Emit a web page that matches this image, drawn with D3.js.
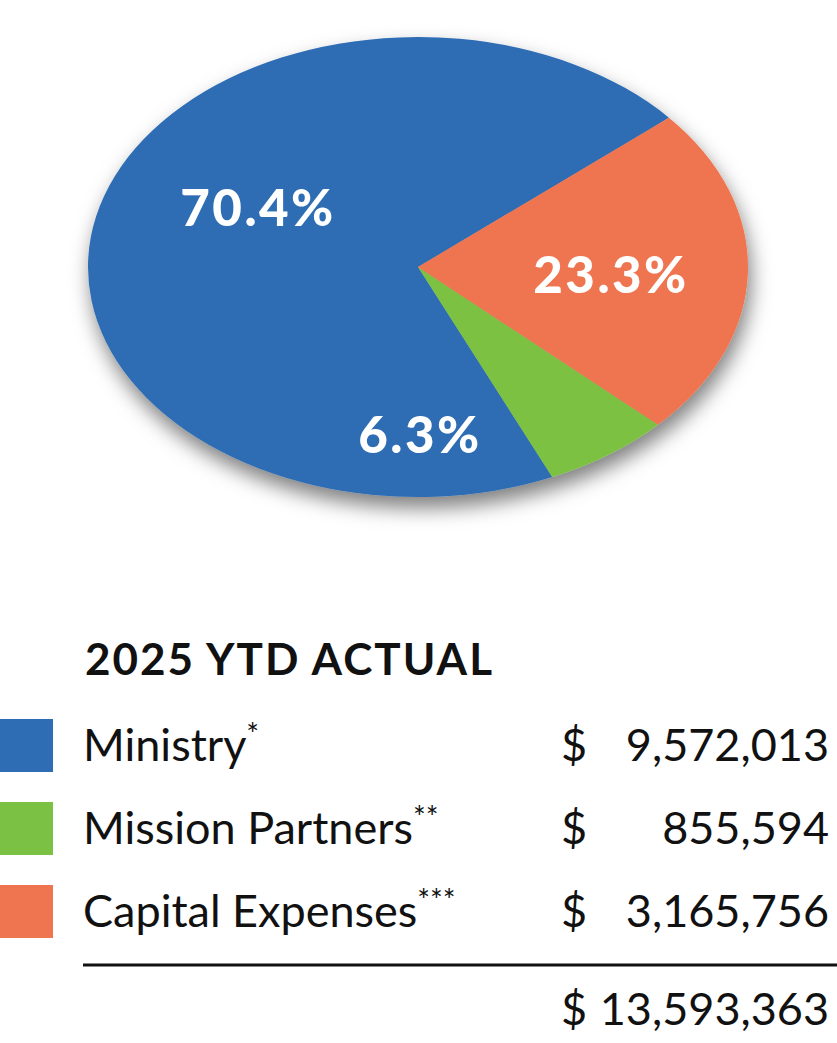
<!DOCTYPE html>
<html>
<head>
<meta charset="utf-8">
<script src="https://cdn.jsdelivr.net/npm/d3@7"></script>
<style>
  body { margin: 0; background: #fff; }
  svg { display: block; }
</style>
</head>
<body>
<div id="container"></div>
<script>
// data
const categories = ["Ministry", "Mission Partners", "Capital Expenses"];
const marks = ["*", "**", "***"];
const amounts = [9572013, 855594, 3165756];
const colors = ["#2e6db4", "#7bc143", "#ee754f"];
const title = "2025 YTD ACTUAL";

const w = 837, h = 1043;
const cx = 418, cy = 267, rx = 330, ry = 230;

const svg = d3.select("#container").append("svg").attr("width", w).attr("height", h);

// soft shadow under the pie
const defs = svg.append("defs");
defs.append("filter").attr("id", "shadow")
    .attr("x", "-20%").attr("y", "-20%").attr("width", "140%").attr("height", "140%")
  .append("feDropShadow")
    .attr("dx", 3).attr("dy", 11).attr("stdDeviation", 10)
    .attr("flood-color", "#000").attr("flood-opacity", 0.5);

const total = d3.sum(amounts);
const data = categories.map((c, i) => ({ name: c, value: amounts[i], color: colors[i] }));

// slices run counter-clockwise, ministry ends at ~49.5deg from 12 o'clock
const a0 = 409.5 * Math.PI / 180;
const pie = d3.pie().sort(null).value(d => d.value).startAngle(a0).endAngle(a0 - 2 * Math.PI);
const arc = d3.arc().innerRadius(0).outerRadius(rx);

const pieG = svg.append("g").attr("filter", "url(#shadow)")
  .append("g").attr("transform", `translate(${cx},${cy}) scale(1,${ry / rx})`);

pieG.selectAll("path")
  .data(pie(data))
  .enter()
  .append("path")
    .attr("d", arc)
    .attr("fill", d => d.data.color);

// percent labels (placed by hand like the original)
const pct = d3.format(".1%");
const labelPos = [[258, 226], [420, 453], [611, 293]];
svg.selectAll("text.pct")
  .data(data)
  .enter()
  .append("text")
    .attr("class", "pct")
    .attr("x", (d, i) => labelPos[i][0])
    .attr("y", (d, i) => labelPos[i][1])
    .attr("text-anchor", "middle")
    .attr("fill", "#fff")
    .style("font-family", "Lato, 'Open Sans', sans-serif")
    .style("font-weight", 900)
    .style("font-size", "51px")
    .style("letter-spacing", "2.5px")
    .text(d => pct(d.value / total));

// legend table
const fmt = d3.format(",");
const font = "Lato, 'Noto Sans', sans-serif";

svg.append("text")
  .attr("x", 85).attr("y", 675)
  .style("font-family", font).style("font-weight", 700).style("font-size", "44px")
  .style("letter-spacing", "2px")
  .attr("fill", "#111")
  .text(title);

const rowY = d3.scaleBand().domain(categories).range([719, 938]).paddingInner(30 / 83).paddingOuter(0);

const rows = svg.selectAll("g.row")
  .data(data)
  .enter()
  .append("g")
    .attr("class", "row")
    .attr("transform", d => `translate(0,${rowY(d.name)})`);

rows.append("rect")
  .attr("x", 0).attr("y", 0)
  .attr("width", 53).attr("height", rowY.bandwidth())
  .attr("fill", d => d.color);

const label = rows.append("text")
  .attr("x", 83).attr("y", 42)
  .style("font-family", font).style("font-size", "45px")
  .attr("fill", "#111");
label.append("tspan").text(d => d.name);
label.append("tspan")
  .attr("dy", -16).style("font-size", "30px")
  .text((d, i) => marks[i]);

rows.append("text")
  .attr("x", 561).attr("y", 42)
  .style("font-family", font).style("font-size", "45px")
  .attr("fill", "#111")
  .text("$");

rows.append("text")
  .attr("x", 829).attr("y", 42)
  .attr("text-anchor", "end")
  .style("font-family", font).style("font-size", "45px")
  .attr("fill", "#111")
  .text(d => fmt(d.value));

// total rule + total
svg.append("line")
  .attr("x1", 83).attr("x2", 837)
  .attr("y1", 965).attr("y2", 965)
  .attr("stroke", "#111").attr("stroke-width", 3);

svg.append("text")
  .attr("x", 561).attr("y", 1025)
  .style("font-family", font).style("font-size", "45px")
  .attr("fill", "#111")
  .text("$");

svg.append("text")
  .attr("x", 829).attr("y", 1025)
  .attr("text-anchor", "end")
  .style("font-family", font).style("font-size", "45px")
  .attr("fill", "#111")
  .text(fmt(total));
</script>
</body>
</html>
